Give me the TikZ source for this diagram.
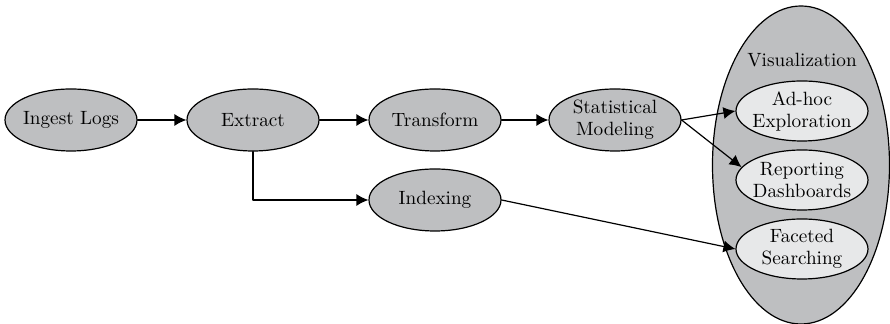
\documentclass[tikz,border=0pt]{standalone}
\usetikzlibrary{shapes.geometric,arrows.meta}
\definecolor{stepgray}{HTML}{BEBFC1}
\definecolor{subgray}{HTML}{E7E8E9}
\tikzset{
  stepnode/.style={ellipse, draw, fill=stepgray, inner xsep=-4pt, inner ysep=0pt,
    minimum width=66pt, minimum height=31pt, align=center},
  subnode/.style={stepnode, fill=subgray, minimum height=30pt}
}

\begin{document}
\begin{tikzpicture}[x=0.5pt, y=-0.5pt, >={Latex[length=6pt,width=6pt]}, font=\fontsize{9.6}{11}\selectfont, line join=round, line cap=round, line width=0.6pt]
        \useasboundingbox (0,0) rectangle (890,324);
        % big group ellipse
        \node[ellipse, draw, fill=stepgray, inner sep=0pt, minimum width=88.5pt, minimum height=159pt] (vis) at (801,165) {};
        \node (vislbl) at (802,60) {Visualization};
        % pipeline steps
        \node[stepnode] (ingest) at (71,120) {Ingest Logs};
        \node[stepnode] (extract) at (253,120) {Extract};
        \node[stepnode] (transform) at (435,120) {Transform};
        \node[stepnode] (index) at (435,200) {Indexing};
        \node[stepnode] (stat) at (615,120) {Statistical\\Modeling};
        \node[subnode] (adhoc) at (802,111) {Ad-hoc\\Exploration};
        \node[subnode] (report) at (802,180) {Reporting\\Dashboards};
        \node[subnode] (facet) at (802,249) {Faceted\\Searching};
        % connectors
        \draw[->] (ingest) -- (extract);
        \draw[->] (extract) -- (transform);
        \draw[->] (transform) -- (stat);
        \draw[->] (extract.south) |- (index.west);
        \draw[->] (stat.east) -- (adhoc.west);
        \draw[->] (stat.east) -- (report.168);
        \draw[->] (index.east) -- (facet.west);
\end{tikzpicture}
\end{document}
